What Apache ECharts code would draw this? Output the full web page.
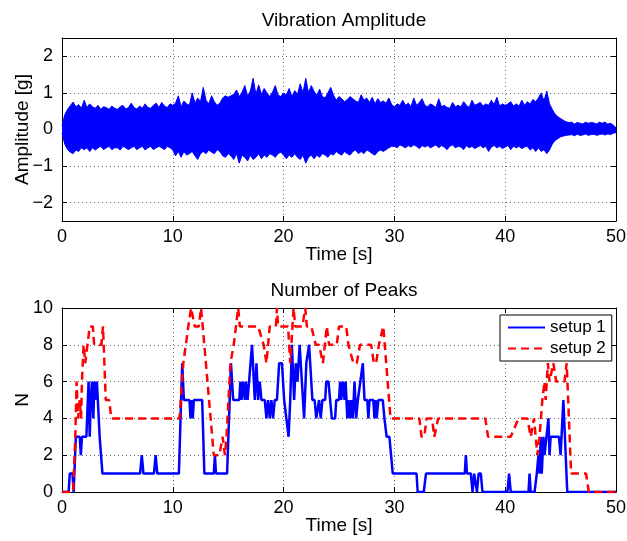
<!DOCTYPE html>
<html><head><meta charset="utf-8">
<script src="https://cdn.jsdelivr.net/npm/echarts@6/dist/echarts.min.js"></script>
<style>html,body{margin:0;padding:0;background:#fff}#c{width:627px;height:541px}</style>
</head><body><div id="c"></div>
<script>
// ---------- Top chart: vibration envelope (0.25 s steps) ----------
const envStep = 0.25;
const ampUpper = [
0.10,0.40,0.55,0.65, 0.75,0.62,0.68,0.58, 0.80,0.60,0.70,0.62, 0.58,0.66,0.55,0.62, 0.60,0.55,0.64,0.58,
0.55,0.62,0.66,0.56, 0.60,0.72,0.60,0.56, 0.64,0.58,0.70,0.60, 0.58,0.66,0.72,0.60, 0.74,0.64,0.60,0.70,
0.66,0.72,0.92,0.62, 0.78,0.70,0.66,1.00, 0.72,0.86,0.76,1.15, 0.80,0.70,0.92,0.76, 0.66,0.72,0.86,0.92,
0.88,0.92,0.96,1.08, 0.90,1.02,1.20,0.92, 1.05,1.40,0.96,1.22, 0.96,1.12,1.00,0.90, 1.02,1.20,0.94,0.90,
1.00,0.94,1.12,0.90, 1.06,0.96,1.25,1.00, 1.40,1.00,1.20,1.04, 0.94,1.10,0.90,0.86, 1.00,1.15,0.94,0.80,
0.90,0.84,0.76,0.82, 0.90,0.84,0.78,0.74, 0.95,0.80,0.86,0.74, 0.88,0.70,0.84,0.74, 0.78,0.72,0.86,0.68,
0.62,0.70,0.66,0.80, 0.66,0.72,0.62,0.86, 0.66,0.74,0.84,0.66, 0.62,0.70,0.66,0.60, 0.84,0.62,0.66,0.60,
0.58,0.74,0.62,0.66, 0.62,0.76,0.66,0.60, 0.80,0.66,0.70,0.74, 0.64,0.70,0.66,0.80, 0.68,0.88,0.64,0.70,
0.66,0.70,0.76,0.64, 0.70,0.64,0.80,0.66, 0.76,0.70,0.82,0.76, 0.86,1.00,0.78,1.05, 0.70,0.55,0.42,0.35,
0.30,0.25,0.21,0.19, 0.20,0.15,0.19,0.17, 0.15,0.20,0.17,0.19, 0.18,0.15,0.20,0.17, 0.20,0.15,0.17,0.12,
0.05];
const ampLower = [
-0.10,-0.40,-0.55,-0.62, -0.66,-0.56,-0.60,-0.50, -0.55,-0.50,-0.60,-0.50, -0.56,-0.50,-0.46,-0.55, -0.50,-0.46,-0.55,-0.50,
-0.50,-0.56,-0.46,-0.50, -0.55,-0.50,-0.46,-0.55, -0.50,-0.46,-0.56,-0.50, -0.46,-0.55,-0.50,-0.46, -0.50,-0.55,-0.46,-0.50,
-0.56,-0.72,-0.60,-0.76, -0.60,-0.70,-0.66,-0.60, -0.72,-0.82,-0.66,-0.60, -0.66,-0.56,-0.62,-0.66, -0.55,-0.60,-0.72,-0.76,
-0.66,-0.72,-0.82,-0.66, -0.92,-0.70,-0.76,-0.86, -0.70,-0.82,-0.76,-0.66, -0.80,-0.70,-0.76,-0.66, -0.70,-0.76,-0.66,-0.62,
-0.70,-0.80,-0.70,-0.76, -0.66,-0.76,-0.82,-0.70, -0.92,-0.76,-0.70,-0.80, -0.70,-0.76,-0.66,-0.70, -0.76,-0.66,-0.70,-0.60,
-0.66,-0.70,-0.60,-0.66, -0.70,-0.60,-0.56,-0.66, -0.60,-0.66,-0.56,-0.60, -0.66,-0.70,-0.60,-0.56, -0.60,-0.55,-0.50,-0.46,
-0.46,-0.50,-0.42,-0.46, -0.50,-0.44,-0.48,-0.42, -0.46,-0.52,-0.44,-0.48, -0.44,-0.50,-0.46,-0.42, -0.50,-0.44,-0.48,-0.55,
-0.46,-0.42,-0.50,-0.46, -0.48,-0.55,-0.44,-0.50, -0.46,-0.52,-0.48,-0.44, -0.50,-0.46,-0.60,-0.48, -0.44,-0.50,-0.46,-0.52,
-0.48,-0.44,-0.55,-0.46, -0.50,-0.46,-0.52,-0.48, -0.46,-0.56,-0.50,-0.60, -0.50,-0.60,-0.55,-0.66, -0.56,-0.40,-0.30,-0.25,
-0.20,-0.18,-0.16,-0.15, -0.14,-0.17,-0.13,-0.16, -0.15,-0.12,-0.16,-0.14, -0.13,-0.16,-0.14,-0.12, -0.15,-0.12,-0.14,-0.10,
-0.05];

// ---------- Bottom chart: number of peaks [time, N] ----------
const setup1 = [
[0,0],[0.6,0],[0.7,1],[0.95,1],[1.05,0],[1.25,3],[1.6,3],[1.7,2],[1.8,3],[2.2,3],[2.4,6],[2.5,3],[2.6,5],[2.7,6],
[2.83,4],[2.92,6],[3.05,5],[3.15,6],[3.25,6],[3.4,3],[3.5,3],[3.65,1],[7.05,1],[7.2,2],[7.35,1],[8.3,1],[8.45,2],
[8.6,1],[10.55,1],[10.85,7],[11.0,5],[11.5,5],[11.6,4],[11.7,5],[11.8,4],[11.9,5],[12.65,5],[12.85,1],[13.7,1],
[13.8,2],[13.9,1],[14.9,1],[15.25,7],[15.45,5],[16.0,5],[16.1,6],[16.2,5],[16.35,6],[16.5,5],[16.6,6],[16.75,5],
[17.15,8],[17.4,5],[17.55,7],[17.7,5],[17.85,6],[18.0,5],[18.3,5],[18.45,4],[18.6,5],[18.75,4],[18.9,5],[19.05,4],
[19.2,5],[19.4,5],[19.6,7],[19.85,7],[20.05,5],[20.45,3],[20.6,5],[20.75,8],[20.95,5],[21.1,7],[21.25,6],[21.45,8],
[21.65,6],[21.85,4],[22.05,7],[22.3,8],[22.6,5],[22.8,5],[22.95,4],[23.2,5],[23.35,4],[23.5,5],[23.75,5],[23.85,6],
[24.05,6],[24.2,5],[24.35,4],[24.65,4],[24.75,5],[25.0,5],[25.1,6],[25.2,5],[25.35,6],[25.5,5],[25.6,6],[25.75,4],
[25.85,5],[26.0,4],[26.1,5],[26.25,4],[26.4,6],[26.55,4],[26.7,5],[26.85,5],[27.15,7],[27.3,5],[27.55,5],[27.65,4],
[27.75,5],[28.1,5],[28.2,4],[28.3,5],[28.4,4],[28.55,5],[28.95,5],[29.1,4],[29.3,3],[29.55,3],[29.7,2],[29.85,1],
[32.0,1],[32.1,0],[32.65,0],[32.85,1],[36.35,1],[36.45,2],[36.55,1],[36.9,1],[37.05,0],[37.2,1],[37.35,1],[37.45,0],
[37.6,1],[37.8,1],[37.95,0],[40.2,0],[40.35,1],[40.5,0],[42.1,0],[42.2,1],[42.3,0],[42.65,0],[42.85,1],[43.0,2],
[43.1,1],[43.2,3],[43.3,1],[43.45,3],[43.55,2],[43.7,2],[43.9,4],[44.0,2],[44.1,3],[44.85,3],[45.0,2],[45.25,5],
[45.6,0],[50,0]];
const setup2 = [
[0,0],[1.0,0],[1.2,3],[1.32,6],[1.45,4],[1.6,5],[1.72,4],[1.8,6],[1.95,8],[2.1,7],[2.3,8],[2.5,9],[2.78,9],[2.9,8],
[3.55,8],[3.7,9],[3.95,5],[4.25,5],[4.45,4],[10.6,4],[10.95,7],[11.1,7],[11.4,9],[11.65,10],[11.98,9],[12.35,9],
[12.55,10],[12.7,9],[13.7,2],[14.2,2],[14.5,3],[14.7,2],[14.85,3],[15.2,7],[15.5,8],[15.7,9],[15.9,10],[16.05,9],
[17.3,9],[17.7,9],[18.2,8],[18.45,7],[18.75,9],[19.3,9],[19.4,10],[19.5,9],[20.4,9],[20.6,7],[20.9,10],[21.05,9],
[21.7,9],[21.95,10],[22.1,9],[22.5,9],[22.9,8],[23.2,8],[23.55,7],[23.9,9],[24.1,8],[24.8,8],[25.0,9],[25.65,9],
[25.85,8],[26.3,7],[26.6,7],[26.9,8],[27.9,8],[28.15,7],[28.35,7],[28.6,8],[28.75,8],[29.0,9],[29.1,9],[29.65,4],
[32.25,4],[32.45,3],[32.7,3],[32.9,4],[33.4,4],[33.6,3],[33.75,3],[33.95,4],[38.2,4],[38.45,3],[40.5,3],[41.2,4],
[42.0,4],[42.3,3],[42.6,4],[42.9,2],[43.1,3],[43.35,5],[43.55,6],[43.65,5],[43.85,7],[44.0,6],[44.35,7],[44.6,6],
[45.35,6],[45.55,7],[45.95,1],[47.3,1],[47.55,0],[50,0]];

const ampTicks = [-2, -1, 0, 1, 2];
const seriesNames = ['setup 1', 'setup 2'];

const FONT = 'Liberation Sans, Arial, Helvetica, sans-serif';
const minus = v => (v < 0 ? '\u2212' + Math.abs(v) : String(v));
const env = arr => arr.map((v, i) => [i * envStep, v]);

const gridLine = { show: true, lineStyle: { color: '#666', type: [1, 3], width: 1 } };
const axLine = { show: true, onZero: false, lineStyle: { color: '#000', width: 1 } };
const tick = { show: true, inside: true, length: 5, lineStyle: { color: '#000' } };
const lbl = { color: '#000', fontSize: 18, fontFamily: FONT };
const nameStyle = { color: '#000', fontSize: 19, fontFamily: FONT };

function xAx(grid, pos, show) {
  return { type: 'value', gridIndex: grid, position: pos, min: 0, max: 50, interval: 10,
    axisLine: axLine, axisTick: tick,
    axisLabel: show ? Object.assign({ margin: 7 }, lbl) : { show: false },
    splitLine: show ? gridLine : { show: false },
    name: show ? 'Time [s]' : '', nameLocation: 'middle', nameGap: 24, nameMoveOverlap: false,
    nameTextStyle: nameStyle };
}

const option = {
  animation: false,
  backgroundColor: '#fff',
  title: [
    { text: 'Vibration Amplitude', left: 339, top: 6, textAlign: 'center',
      textStyle: { fontSize: 19, fontWeight: 'normal', color: '#000', fontFamily: FONT } },
    { text: 'Number of Peaks', left: 339, top: 276, textAlign: 'center',
      textStyle: { fontSize: 19, fontWeight: 'normal', color: '#000', fontFamily: FONT } }
  ],
  grid: [
    { left: 62, right: 11, top: 38, height: 183, outerBoundsMode: 'none', containLabel: false },
    { left: 62, right: 11, top: 308, height: 184, outerBoundsMode: 'none', containLabel: false }
  ],
  legend: {
    data: seriesNames, orient: 'vertical', left: 500, top: 315,
    backgroundColor: '#fff', borderColor: '#000', borderWidth: 1,
    padding: [4, 6, 4, 7], itemGap: 4, itemWidth: 37, itemHeight: 18,
    itemStyle: { color: 'rgba(0,0,0,0)', borderColor: 'rgba(0,0,0,0)', borderWidth: 0 },
    textStyle: { color: '#000', fontSize: 17, fontFamily: FONT }
  },
  xAxis: [ xAx(0, 'bottom', true), xAx(0, 'top', false), xAx(1, 'bottom', true), xAx(1, 'top', false) ],
  yAxis: [
    { type: 'value', gridIndex: 0, position: 'left', min: -2.5, max: 2.5,
      axisLine: axLine,
      axisTick: Object.assign({ customValues: ampTicks }, tick),
      axisLabel: Object.assign({ customValues: ampTicks, margin: 9, formatter: minus }, lbl),
      splitLine: gridLine,
      name: 'Amplitude [g]', nameLocation: 'middle', nameGap: 30, nameMoveOverlap: false,
      nameTextStyle: nameStyle },
    { type: 'value', gridIndex: 0, position: 'right', min: -2.5, max: 2.5,
      axisLine: axLine, axisTick: Object.assign({ customValues: ampTicks }, tick),
      axisLabel: { show: false }, splitLine: { show: false } },
    { type: 'value', gridIndex: 1, position: 'left', min: 0, max: 10, interval: 2,
      axisLine: axLine, axisTick: tick,
      axisLabel: Object.assign({ margin: 9 }, lbl), splitLine: gridLine,
      name: 'N', nameLocation: 'middle', nameGap: 30, nameMoveOverlap: false, nameTextStyle: nameStyle },
    { type: 'value', gridIndex: 1, position: 'right', min: 0, max: 10, interval: 2,
      axisLine: axLine, axisTick: tick, axisLabel: { show: false }, splitLine: { show: false } }
  ],
  series: [
    { type: 'line', xAxisIndex: 0, yAxisIndex: 0, data: env(ampUpper), symbol: 'none',
      lineStyle: { color: '#0000ff', width: 1 }, areaStyle: { color: '#0000ff', opacity: 1, origin: -0.1 }, silent: true },
    { type: 'line', xAxisIndex: 0, yAxisIndex: 0, data: env(ampLower), symbol: 'none',
      lineStyle: { color: '#0000ff', width: 1 }, areaStyle: { color: '#0000ff', opacity: 1, origin: 0.05 }, silent: true },
    { name: seriesNames[0], type: 'line', xAxisIndex: 2, yAxisIndex: 2, data: setup1, symbol: 'none',
      itemStyle: { color: '#0000ff' }, lineStyle: { color: '#0000ff', width: 2.5 } },
    { name: seriesNames[1], type: 'line', xAxisIndex: 2, yAxisIndex: 2, data: setup2, symbol: 'none',
      itemStyle: { color: '#ff0000' }, lineStyle: { color: '#ff0000', width: 2.5, type: [8, 5] } }
  ]
};
const chart = echarts.init(document.getElementById('c'), null, { renderer: 'canvas' });
chart.setOption(option);
</script></body></html>
